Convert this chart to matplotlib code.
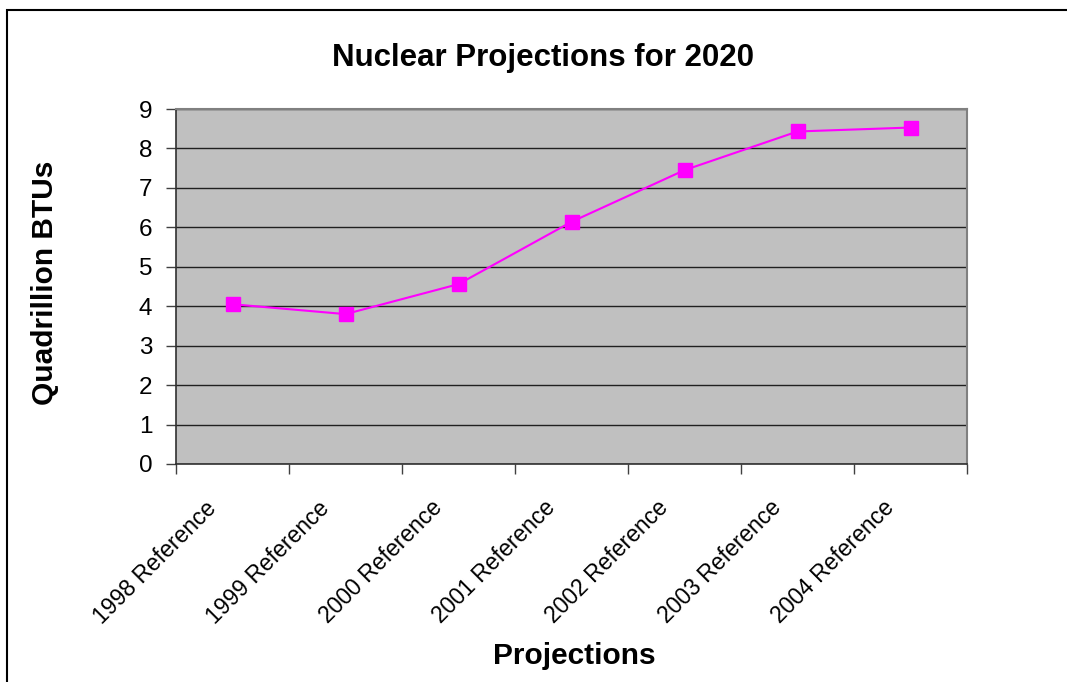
import matplotlib
matplotlib.use("Agg")
import matplotlib.pyplot as plt
import matplotlib.transforms as mtransforms
from matplotlib.patches import Rectangle

plt.rcParams['font.family'] = ['Liberation Sans', 'DejaVu Sans']

# data
projections = ["1998 Reference", "1999 Reference", "2000 Reference", "2001 Reference",
               "2002 Reference", "2003 Reference", "2004 Reference"]
btus = [4.05, 3.80, 4.56, 6.14, 7.45, 8.43, 8.53]

fig = plt.figure(figsize=(10.67, 6.82), dpi=100)
ax = fig.add_axes([176 / 1067, 1 - 464 / 682, 791 / 1067, 355 / 682])
ax.set_facecolor("#C0C0C0")

x = list(range(len(projections)))
ax.plot(x, btus, color="#FF00FF", lw=1.5, marker="s", markersize=10,
        markerfacecolor="#FF00FF", markeredgecolor="#FF00FF", zorder=3)

ax.set_xlim(-0.5, len(projections) - 0.5)
ax.set_ylim(0, 9)
ax.set_yticks(range(0, 10))
ax.yaxis.grid(True, color="#202020", lw=1.0)
ax.set_axisbelow(True)

# category labels centred, tick marks on the boundaries
ax.set_xticks(x)
ax.set_xticks([i - 0.5 for i in range(len(projections) + 1)], minor=True)
ax.tick_params(axis="x", which="major", length=0, pad=22)
ax.tick_params(axis="x", which="minor", length=7, width=1, color="#404040")
ax.tick_params(axis="y", length=7, width=1, color="#404040", labelsize=17.5, pad=10)
ax.set_xticklabels(projections, rotation=45, ha="right", va="center",
                   rotation_mode="anchor", fontsize=16.5)
shift = mtransforms.ScaledTranslation(-20 / 100, -10 / 100, fig.dpi_scale_trans)
for lab in ax.get_xticklabels():
    lab.set_transform(lab.get_transform() + shift)

for side in ["top", "right"]:
    ax.spines[side].set_color("#808080")
    ax.spines[side].set_linewidth(1.5)
for side in ["left", "bottom"]:
    ax.spines[side].set_color("#303030")
    ax.spines[side].set_linewidth(1.2)

fig.text(543 / 1067, 1 - 58 / 682, "Nuclear Projections for 2020",
         ha="center", va="center", fontsize=22.5, fontweight="bold")
fig.text(45 / 1067, 1 - 283 / 682, "Quadrillion BTUs", rotation=90,
         ha="center", va="center", fontsize=21.5, fontweight="bold")
fig.text(574 / 1067, 1 - 656 / 682, "Projections",
         ha="center", va="center", fontsize=21.5, fontweight="bold")

# outer chart frame (runs off the right and bottom edges)
fig.patches.append(Rectangle((7 / 1067, -0.1), 1.2, 1.1 - 10 / 682,
                             transform=fig.transFigure, fill=False,
                             edgecolor="black", lw=1.5))

fig.savefig("out.png", dpi=100)
